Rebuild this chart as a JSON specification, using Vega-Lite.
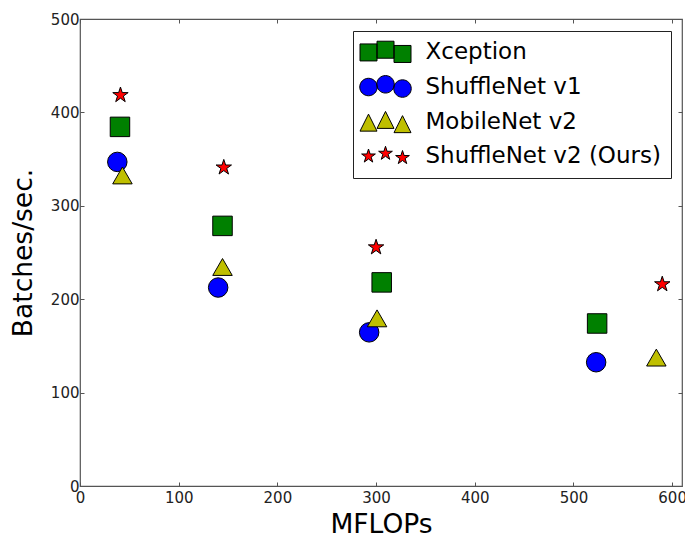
{
  "$schema": "https://vega.github.io/schema/vega-lite/v6.json",
  "width": 602,
  "height": 467,
  "autosize": {"type": "none"},
  "padding": {"left": 80, "top": 19, "right": 3, "bottom": 54},
  "background": "white",
  "config": {
    "font": "DejaVu Sans",
    "view": {"stroke": "#555", "strokeWidth": 1.2},
    "axis": {"labelFont": "DejaVu Sans", "titleFont": "DejaVu Sans"}
  },
  "data": {
    "values": [
      {"model": "Xception", "mflops": 40.5, "batches": 384.5},
      {"model": "Xception", "mflops": 144.4, "batches": 278.5},
      {"model": "Xception", "mflops": 305.7, "batches": 218},
      {"model": "Xception", "mflops": 524, "batches": 174},
      {"model": "ShuffleNet v1", "mflops": 37.8, "batches": 347},
      {"model": "ShuffleNet v1", "mflops": 140, "batches": 212.5},
      {"model": "ShuffleNet v1", "mflops": 293, "batches": 164.5},
      {"model": "ShuffleNet v1", "mflops": 523, "batches": 132.5},
      {"model": "MobileNet v2", "mflops": 43, "batches": 332.5},
      {"model": "MobileNet v2", "mflops": 144.4, "batches": 234.5},
      {"model": "MobileNet v2", "mflops": 301, "batches": 179.5},
      {"model": "MobileNet v2", "mflops": 584, "batches": 137.5},
      {"model": "ShuffleNet v2 (Ours)", "mflops": 41, "batches": 418.5},
      {"model": "ShuffleNet v2 (Ours)", "mflops": 145.7, "batches": 341},
      {"model": "ShuffleNet v2 (Ours)", "mflops": 300, "batches": 255.5},
      {"model": "ShuffleNet v2 (Ours)", "mflops": 590, "batches": 216}
    ]
  },
  "layer": [
    {
      "mark": {"type": "point", "filled": true, "opacity": 1, "stroke": "black", "strokeWidth": 1, "size": 380},
      "encoding": {
        "x": {
          "field": "mflops", "type": "quantitative",
          "scale": {"domain": [0, 610], "nice": false, "zero": false},
          "axis": {
            "values": [0, 100, 200, 300, 400, 500, 600],
            "domain": false, "grid": false, "tickSize": -4, "tickColor": "#555", "tickWidth": 1,
            "labelFontSize": 15, "labelColor": "#222", "labelPadding": 8, "labelFlush": false,
            "title": "MFLOPs", "titleFontSize": 26.5, "titleFontWeight": "normal", "titleColor": "black", "titlePadding": 6
          }
        },
        "y": {
          "field": "batches", "type": "quantitative",
          "scale": {"domain": [0, 500], "nice": false},
          "axis": {
            "values": [0, 100, 200, 300, 400, 500],
            "domain": false, "grid": false, "tickSize": -4, "tickColor": "#555", "tickWidth": 1,
            "labelFontSize": 15, "labelColor": "#222", "labelPadding": 5, "labelFlush": false,
            "title": "Batches/sec.", "titleFontSize": 26.5, "titleFontWeight": "normal", "titleColor": "black", "titlePadding": 13
          }
        },
        "color": {
          "field": "model", "type": "nominal",
          "scale": {"domain": ["Xception", "ShuffleNet v1", "MobileNet v2", "ShuffleNet v2 (Ours)"], "range": ["#008000", "#0000ff", "#bfbf00", "#ff0000"]},
          "legend": null
        },
        "shape": {
          "field": "model", "type": "nominal",
          "scale": {"domain": ["Xception", "ShuffleNet v1", "MobileNet v2", "ShuffleNet v2 (Ours)"], "range": ["square", "circle", "triangle-up", "M0,-0.83L0.1863,-0.2565L0.7894,-0.2565L0.3015,0.098L0.4879,0.6715L0,0.317L-0.4879,0.6715L-0.3015,0.098L-0.7894,-0.2565L-0.1863,-0.2565Z"]},
          "legend": null
        }
      }
    },
    {
      "transform": [{"filter": "false"}],
      "mark": {"type": "point", "filled": true, "opacity": 1, "stroke": "black", "strokeWidth": 1},
      "encoding": {
        "x": {
          "field": "mflops", "type": "quantitative",
          "axis": {"orient": "top", "values": [0, 100, 200, 300, 400, 500, 600], "labels": false, "title": null, "domain": false, "grid": false, "tickSize": -4, "tickColor": "#555", "tickWidth": 1}
        },
        "y": {
          "field": "batches", "type": "quantitative",
          "axis": {"orient": "right", "values": [0, 100, 200, 300, 400, 500], "labels": false, "title": null, "domain": false, "grid": false, "tickSize": -4, "tickColor": "#555", "tickWidth": 1}
        },
        "color": {
          "field": "model", "type": "nominal",
          "scale": {"domain": ["Xception", "ShuffleNet v1", "MobileNet v2", "ShuffleNet v2 (Ours)"], "range": ["#008000", "#0000ff", "#bfbf00", "#ff0000"]},
          "legend": {
            "orient": "none", "legendX": 273, "legendY": 12, "title": null,
            "padding": 9.5, "fillColor": "white", "strokeColor": "#222", "cornerRadius": 0,
            "symbolSize": 289, "symbolStrokeColor": "black", "symbolStrokeWidth": 1, "symbolOpacity": 1,
            "symbolOffset": 11.5, "labelOffset": 28.5,
            "labelFont": "DejaVu Sans", "labelFontSize": 23, "labelColor": "black", "labelLimit": 400,
            "rowPadding": 8.6,
            "encode": {"symbols": {"update": {"stroke": {"value": "black"}, "strokeWidth": {"value": 1}, "opacity": {"value": 1}}}}
          }
        },
        "shape": {
          "field": "model", "type": "nominal",
          "scale": {"domain": ["Xception", "ShuffleNet v1", "MobileNet v2", "ShuffleNet v2 (Ours)"], "range": [
            "M-3,-0.95H-1V1.05H-3Z M-1,-1.27H1V0.73H-1Z M1,-0.77H3V1.23H1Z",
            "M-3.03,0.05A1.03,1.03,0,1,0,-0.97,0.05A1.03,1.03,0,1,0,-3.03,0.05Z M-1.03,-0.27A1.03,1.03,0,1,0,1.03,-0.27A1.03,1.03,0,1,0,-1.03,-0.27Z M0.97,0.23A1.03,1.03,0,1,0,3.03,0.23A1.03,1.03,0,1,0,0.97,0.23Z",
            "M-2,-0.95L-3,1.05L-1,1.05Z M0,-1.27L-1,0.73L1,0.73Z M2,-0.77L1,1.23L3,1.23Z",
            "M-2,-0.8L-1.809,-0.2129L-1.1916,-0.2127L-1.6909,0.1504L-1.5004,0.7377L-2,0.375L-2.4996,0.7377L-2.3091,0.1504L-2.8084,-0.2127L-2.191,-0.2129Z M0,-1.12L0.191,-0.5329L0.8084,-0.5327L0.3091,-0.1696L0.4996,0.4177L0,0.055L-0.4996,0.4177L-0.3091,-0.1696L-0.8084,-0.5327L-0.191,-0.5329Z M2,-0.62L2.191,-0.0329L2.8084,-0.0327L2.3091,0.3304L2.4996,0.9177L2,0.555L1.5004,0.9177L1.6909,0.3304L1.1916,-0.0327L1.809,-0.0329Z"
          ]},
          "legend": {
            "orient": "none", "legendX": 273, "legendY": 12, "title": null,
            "padding": 9.5, "fillColor": "white", "strokeColor": "#222", "cornerRadius": 0,
            "symbolSize": 289, "symbolStrokeColor": "black", "symbolStrokeWidth": 1, "symbolOpacity": 1,
            "symbolOffset": 11.5, "labelOffset": 28.5,
            "labelFont": "DejaVu Sans", "labelFontSize": 23, "labelColor": "black", "labelLimit": 400,
            "rowPadding": 8.6,
            "encode": {"symbols": {"update": {"stroke": {"value": "black"}, "strokeWidth": {"value": 1}, "opacity": {"value": 1}}}}
          }
        }
      }
    }
  ],
  "resolve": {
    "scale": {"color": "independent", "shape": "independent"},
    "axis": {"x": "independent", "y": "independent"}
  }
}
